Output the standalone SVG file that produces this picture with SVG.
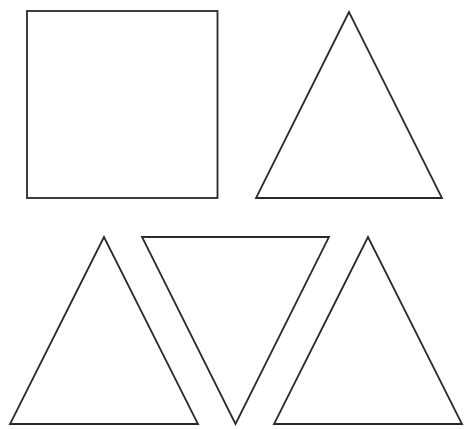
<svg xmlns="http://www.w3.org/2000/svg" width="464" height="429" viewBox="0 0 464 429">
<style>
.s{fill:#fff;stroke:#2a2a2a;stroke-width:1.8;stroke-linejoin:miter}
</style>
<rect width="464" height="429" fill="#fff"/>
<g id="square"><rect class="s" x="27" y="11" width="190.5" height="187"/></g>
<g id="triangle1"><polygon class="s" points="349,12 256,198 442,198"/></g>
<g id="triangle2"><polygon class="s" points="104,237 10,424 198,424"/></g>
<g id="triangle3"><polygon class="s" points="142,237 329,237 235.5,424"/></g>
<g id="triangle4"><polygon class="s" points="368,237 274,424 462,424"/></g>
<g id="connectors"></g>
</svg>
